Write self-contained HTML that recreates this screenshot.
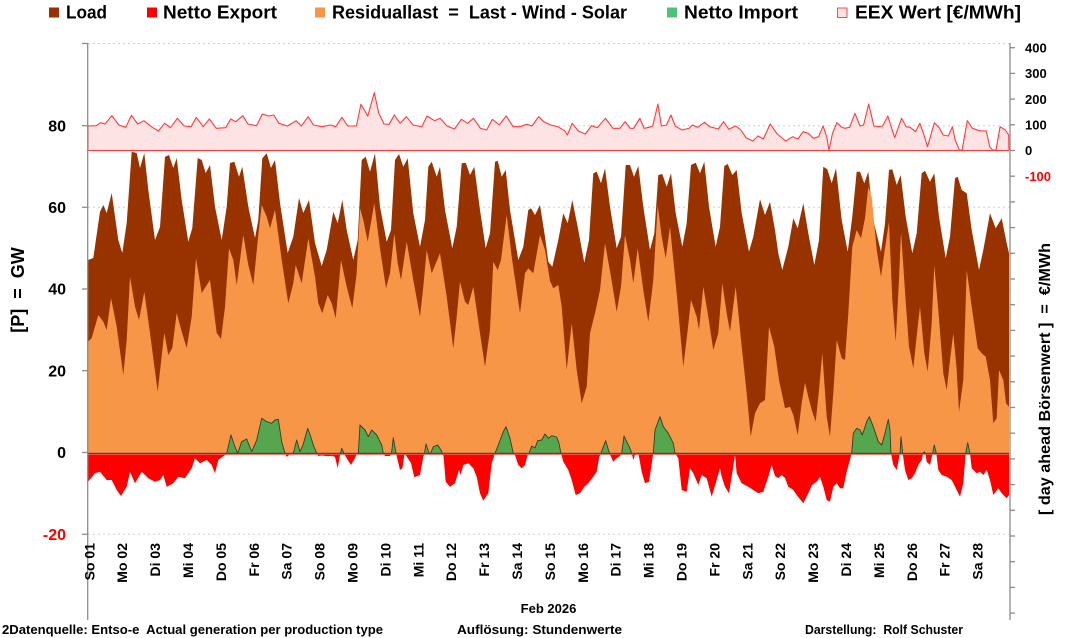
<!DOCTYPE html>
<html>
<head>
<meta charset="utf-8">
<style>
html,body{margin:0;padding:0;background:#fff;}
svg{display:block;}
text{font-family:"Liberation Sans",Arial,sans-serif;font-weight:bold;fill:#000;}
</style>
</head>
<body>
<svg width="1072" height="638" viewBox="0 0 1072 638" xmlns="http://www.w3.org/2000/svg">
<defs>
<clipPath id="neg"><rect x="80" y="453.3" width="940" height="190"/></clipPath>
<clipPath id="pos"><rect x="80" y="0" width="940" height="453.3"/></clipPath>
</defs>
<rect width="1072" height="638" fill="#fff"/>

<!-- gridlines -->
<g stroke="#cfcfcf" stroke-width="1" stroke-dasharray="2,3">
<line x1="88" y1="43.5" x2="1010" y2="43.5"/>
<line x1="88" y1="125.7" x2="1010" y2="125.7"/>
<line x1="88" y1="207.3" x2="1010" y2="207.3"/>
<line x1="88" y1="289" x2="1010" y2="289"/>
<line x1="88" y1="370.7" x2="1010" y2="370.7"/>
<line x1="88" y1="534.3" x2="1010" y2="534.3"/>
</g>

<!-- Load -->
<polygon fill="#983300" points="88,453.3 88,260 93.3,258 100,211.7 103.3,205 106.7,213 111.7,193 118.3,240 122.3,253 126.7,223 131.7,151.7 136.7,153 140,168 144.3,153 148.3,190 155,240 160,227 165,156.7 169,155 173.3,168 176.7,158 181.7,200 188.3,241.7 192.3,228 197.7,158 201.7,160 205.7,173 210,165 215,206.7 221.7,240 226.7,206.7 230,163 234.3,161.7 239,176.7 242.3,166.7 248.3,206.7 255,238 258.3,220 262.3,158.3 266.7,153.3 271,168 275,160 280,203 287.7,253 293.3,236.7 299,198 303.3,213 309,200 315,243 321.7,266 326.7,250 333.3,211.7 337.7,223.3 342.3,200 346.7,230 353.3,260 357.7,240 361.7,160 365.7,156.7 370,171.7 375,153.3 380,206.7 386.7,241.7 391,230 395,160 399,154 403.3,166.7 407.7,158.3 413.3,213.3 420,246.7 425,220 428.3,166.7 431.7,161.7 436.7,176.7 440,166.7 445,210 452.3,248.3 456.7,226.7 461.7,163.3 465.7,162.7 470,175 474.3,166.7 480,210 485.7,248.3 490,233.3 495,161.7 497.7,160.7 501.7,176.7 505.7,170 510,210 518.3,260 523.3,246.7 528.3,210 531,208.3 535,215 540,205 545,236.7 548.3,261.7 552.3,266.7 558.3,240 563.3,213.3 567.7,223.3 572.3,200 578.3,230 584.3,262.7 589,240 593.3,173.3 596.7,171.7 601,183.3 605,168.3 610,206.7 616.7,248.3 621,236.7 625.7,165 630,165 634,176.7 638.3,166 643.3,206.7 650,250 654.3,233.3 658.3,175 662.3,174 666.7,186.7 671,173.3 675.7,213.3 682.3,246.7 686.7,223.3 691,165 695.7,162.7 700,173.3 704.3,161.7 709,206.7 715.7,246.7 720,226.7 724.3,166 727.7,164 732.3,175 736.7,170 741.7,213.3 749,251.7 753.3,236.7 760,199.3 765,215 770,201.7 775,230 778.3,253.3 782.3,270 788.3,246.7 793.3,218.3 797.7,228.3 803.3,203.3 808.3,233.3 814.3,265 819,240 823.3,166.7 827.3,169.3 831.7,183.3 836,168.3 841.7,220 847.7,251.7 852.3,216.7 856.7,171.7 860,171.7 864.3,183.3 868.3,171.7 873.3,220 881,251.7 885,223.3 889,170 892.3,169.3 896.7,185 900.7,175 905.7,216.7 912.3,253.3 916.7,233.3 921.7,173.3 925,170.7 930,181.7 934.3,173.3 939,216.7 945.7,258.3 950,236.7 955,178.3 957.7,176.7 961.7,190 966.7,193.3 971.7,230 979,270 983.3,250 990,213.3 995.7,228.3 1001.7,218.3 1006.7,243.3 1009,253.3 1009,453.3"/>

<!-- Residual -->
<polygon fill="#f79646" points="88,453.3 88,341.7 91.7,338 98.3,315 103.3,321.7 106.7,330 111,298 116.7,326.7 123.3,375 126.7,340 130,276.7 135,306.7 139,320 144.3,291.7 150,333 157.7,391.7 164.3,332.7 168.3,355 172.3,348 176.7,313 181.7,331.7 186.7,348 191.7,316.7 196,258 201.7,293 210,280 216.7,333 221,339 225,306.7 229,248.3 233.3,260 236.7,285 243.3,235 248.3,265 253.3,285 258.3,235 261.7,205 266.7,216.7 270,228.3 275,210 281.7,260 288.3,303.3 293.3,283.3 295.7,265 301.7,283.3 308.3,238.3 315,276.7 318.3,303.3 322.3,313.3 327.7,295 331.7,303.3 335.7,318.3 341,260 346.7,286.7 352.3,308.3 356.7,273.3 360,208.3 363.3,220 367.7,241.7 374.3,203.3 380,248.3 386,288.3 390,273.3 394.3,233.3 397.7,263.3 401,280 406.7,241.7 413.3,280 420,316.7 423.3,286.7 426.7,250 431.7,273.3 440,253.3 446.7,296.7 453.3,348.3 456.7,316.7 460,281.7 465,301.7 468.3,305 473.3,286.7 480,333.3 485,366.7 490,330 493.3,261.7 497.7,270 501,260 506.7,215 511.7,256.7 520,313.3 525,273.3 528.3,268.3 533.3,273.3 540,235 545,250 550,281 553.3,288.3 558.3,285 561.7,306.7 566.7,370 571.7,323.3 576.7,370 581.7,403.3 586.7,386.7 590,333.3 595,313.3 600,290 605,243.3 611,276.7 616.7,311.7 621,286.7 625,235 630,260 633.3,283.3 637.7,248.3 643.3,290 648.3,321.7 653.3,280 657.7,205 661.7,236.7 665.7,258.3 670,226.7 676.7,293.3 683.3,366.7 687.7,330 691,300 696.7,316.7 699,330 703.3,286.7 708.3,316.7 713.3,350 718.3,333.3 722.3,283.3 726.7,313.3 730,331.7 735.7,286.7 741.7,346.7 746.7,393.3 750.7,436.7 755,413.3 760,403.3 765,400 769,326.7 774.3,346.7 779,380 785,408.3 790,406.7 793.3,415 797.7,435 801.7,403.3 805,382.7 808.3,396.7 811.7,410 815.7,421.7 819,390 822.3,353.3 826.7,416.7 830,436.7 833.3,393.3 836.7,340 841.7,358.3 845,360 848.3,313.3 852.3,246.7 856.7,230 861,238.3 865,218.3 868.3,186.7 871.7,196.7 876.7,250 881,276.7 885,248.3 889,221.7 892.3,300 895.7,341.7 899,280 901,231.7 905.7,301.7 909,346.7 913.3,368.3 917.7,326.7 920,306.7 924.3,353.3 927.7,371.7 931.7,323.3 934.3,265 938.3,310 943.3,373.3 946.7,390 950,360 953.3,333.3 956.7,370 959,411.7 963.3,380 966.7,270 971.7,306.7 977.7,348.3 981.7,353.3 985.7,356.7 990,380 993.3,423.3 996.7,418.3 999,370 1003.3,380 1006,403.3 1009,406.7 1009,453.3"/>

<!-- Net export (red) -->
<path d="M88,453.3 L88,481.7 95,473.3 100,471.7 106.7,480 111.7,480 116.7,490 121,496 126.7,486.7 130,471.7 135,483.3 141.7,471.7 148.3,478.3 155,481.7 160,480 163.3,475 166.7,486.7 173.3,483.3 178.3,476.7 185,478.3 191.7,468.3 195,458.3 200,463.3 206.7,460 211.7,465 215,473.3 218.3,460 225,455 226.7,453.3 231,435 234.3,445 237.7,453.3 241.7,441.7 246.7,439 251.7,451.7 256.7,440 261.7,418.3 266.7,421.7 271.7,423.3 275,420 278.3,419.3 281.7,441.7 285,453.3 286.5,456.7 288,456 290,453.3 293.3,453.3 296.7,440 300,451.7 303,445 307.7,428.3 310.5,436 313.3,445 316.7,453.3 318.3,456 322,455.5 328,456.3 332,455.8 335,457 337.7,468.3 340,455 341.7,448.3 344,453.3 346.5,458 351,465 355,458 357,453.3 358.3,453.3 360,425 365,430 368.3,436.7 371.7,430 376.7,435 381.7,445 383.3,453.3 385,456 390,456 391.5,453.3 393.3,437.7 396,453.3 400,470 402.5,468 404.3,455 406,455.5 411,463 414.3,477.3 420,475 423.3,456.7 424.5,453.3 426,444 428.5,451.5 430,455 431.5,451 433.3,446.7 437.7,445 441.5,451 442.3,453.3 443.5,456 445.7,481.7 450,486.7 455,483.3 459,470 460.7,475 463.3,465 468.3,463.3 473.3,468.3 476.7,476.7 480,493.3 483.3,500.7 488.3,493.3 491.7,463.3 495,453.3 498.3,445 503.3,431.7 506,426.7 510,438.3 513.3,453.3 515,455 518.3,465 521.7,468.3 525,465 527.7,455 529,453.3 531.7,446 535,448 537.7,440.7 541.7,440 545,434 548.3,438.3 551.7,435.7 556.7,437 559,443.3 561,453.3 563.3,461.7 568.3,470 571.7,480 575.7,495 580,493.3 584.3,486.7 588.3,483.3 593.3,476.7 596.7,471.7 599.3,456.7 601,453.3 602.7,448.3 605.7,440.7 609,451.7 611,456.7 613.3,461.7 616.7,458.3 620,456 621.7,453.3 624,436 626.7,441.7 630,448.3 631.7,453.3 633.3,460 635,455 638.3,453 641.7,471.7 645,483.3 649,481.7 652.3,460 653.3,453.3 655,430 660,416.7 663.3,426.7 668.3,433.3 673.3,443.3 675,453.3 678.3,458.3 681.7,490 686.7,491.7 690,468.3 693.3,473.3 698.3,485 701.7,475 706.7,478.3 711.7,496.7 716.7,480 720,468.3 721.7,476.7 725,486.7 729,493.3 731.7,476.7 735,455 736.7,473.3 741.7,483.3 748.3,486.7 753.3,490 758.3,493.3 763.3,491.7 768.3,476.7 771.7,465 775,476 778.3,478 781.7,475 785,478 788.3,486.7 793.3,490 796.7,495 803.3,503.3 808.3,493.3 812,485 816.7,481.7 820,476.7 823.3,486.7 826.7,500 830,501.7 833.3,486.7 836.7,483.3 840,488.3 843.3,488.3 846.7,471.7 850,460 851.7,453.3 853.3,433.3 856.7,428.3 860,430 862.3,435 866.7,421.7 869.3,416.7 873.3,426.7 878.3,441.7 881.7,445 885,433.3 888.3,419.3 890,430 891,453.3 893.3,465 896.7,470 899,458.3 900,453.3 901,436.7 902.7,453.3 905,470 908.3,480 911.7,478.3 915,473.3 918.3,465 921.7,460 923.3,453.3 924.3,451.7 925.3,453.3 926.7,461.7 930,465 932.3,455 934.3,445 936.3,453.3 938.3,470 941.7,475 946.7,476.7 951.7,480 956.7,490 960,496.7 963.3,483.3 965.7,453.3 967.7,442.7 970,453.3 971.7,468.3 976.7,473.3 980,471.7 983.3,475 986.7,470 990,480 993.3,495 998.3,488.3 1001.7,493.3 1006.7,498.3 1009,495 1009,453.3 Z" fill="#ff0000" clip-path="url(#neg)"/>

<!-- Net import (green) -->
<path d="M88,453.3 L88,481.7 95,473.3 100,471.7 106.7,480 111.7,480 116.7,490 121,496 126.7,486.7 130,471.7 135,483.3 141.7,471.7 148.3,478.3 155,481.7 160,480 163.3,475 166.7,486.7 173.3,483.3 178.3,476.7 185,478.3 191.7,468.3 195,458.3 200,463.3 206.7,460 211.7,465 215,473.3 218.3,460 225,455 226.7,453.3 231,435 234.3,445 237.7,453.3 241.7,441.7 246.7,439 251.7,451.7 256.7,440 261.7,418.3 266.7,421.7 271.7,423.3 275,420 278.3,419.3 281.7,441.7 285,453.3 286.5,456.7 288,456 290,453.3 293.3,453.3 296.7,440 300,451.7 303,445 307.7,428.3 310.5,436 313.3,445 316.7,453.3 318.3,456 322,455.5 328,456.3 332,455.8 335,457 337.7,468.3 340,455 341.7,448.3 344,453.3 346.5,458 351,465 355,458 357,453.3 358.3,453.3 360,425 365,430 368.3,436.7 371.7,430 376.7,435 381.7,445 383.3,453.3 385,456 390,456 391.5,453.3 393.3,437.7 396,453.3 400,470 402.5,468 404.3,455 406,455.5 411,463 414.3,477.3 420,475 423.3,456.7 424.5,453.3 426,444 428.5,451.5 430,455 431.5,451 433.3,446.7 437.7,445 441.5,451 442.3,453.3 443.5,456 445.7,481.7 450,486.7 455,483.3 459,470 460.7,475 463.3,465 468.3,463.3 473.3,468.3 476.7,476.7 480,493.3 483.3,500.7 488.3,493.3 491.7,463.3 495,453.3 498.3,445 503.3,431.7 506,426.7 510,438.3 513.3,453.3 515,455 518.3,465 521.7,468.3 525,465 527.7,455 529,453.3 531.7,446 535,448 537.7,440.7 541.7,440 545,434 548.3,438.3 551.7,435.7 556.7,437 559,443.3 561,453.3 563.3,461.7 568.3,470 571.7,480 575.7,495 580,493.3 584.3,486.7 588.3,483.3 593.3,476.7 596.7,471.7 599.3,456.7 601,453.3 602.7,448.3 605.7,440.7 609,451.7 611,456.7 613.3,461.7 616.7,458.3 620,456 621.7,453.3 624,436 626.7,441.7 630,448.3 631.7,453.3 633.3,460 635,455 638.3,453 641.7,471.7 645,483.3 649,481.7 652.3,460 653.3,453.3 655,430 660,416.7 663.3,426.7 668.3,433.3 673.3,443.3 675,453.3 678.3,458.3 681.7,490 686.7,491.7 690,468.3 693.3,473.3 698.3,485 701.7,475 706.7,478.3 711.7,496.7 716.7,480 720,468.3 721.7,476.7 725,486.7 729,493.3 731.7,476.7 735,455 736.7,473.3 741.7,483.3 748.3,486.7 753.3,490 758.3,493.3 763.3,491.7 768.3,476.7 771.7,465 775,476 778.3,478 781.7,475 785,478 788.3,486.7 793.3,490 796.7,495 803.3,503.3 808.3,493.3 812,485 816.7,481.7 820,476.7 823.3,486.7 826.7,500 830,501.7 833.3,486.7 836.7,483.3 840,488.3 843.3,488.3 846.7,471.7 850,460 851.7,453.3 853.3,433.3 856.7,428.3 860,430 862.3,435 866.7,421.7 869.3,416.7 873.3,426.7 878.3,441.7 881.7,445 885,433.3 888.3,419.3 890,430 891,453.3 893.3,465 896.7,470 899,458.3 900,453.3 901,436.7 902.7,453.3 905,470 908.3,480 911.7,478.3 915,473.3 918.3,465 921.7,460 923.3,453.3 924.3,451.7 925.3,453.3 926.7,461.7 930,465 932.3,455 934.3,445 936.3,453.3 938.3,470 941.7,475 946.7,476.7 951.7,480 956.7,490 960,496.7 963.3,483.3 965.7,453.3 967.7,442.7 970,453.3 971.7,468.3 976.7,473.3 980,471.7 983.3,475 986.7,470 990,480 993.3,495 998.3,488.3 1001.7,493.3 1006.7,498.3 1009,495 1009,453.3 Z" fill="#56a64e" stroke="#2f3f2c" stroke-width="0.9" stroke-linejoin="round" clip-path="url(#pos)"/>

<!-- zero line -->
<line x1="88" y1="453.5" x2="1009" y2="453.5" stroke="#4a4a4a" stroke-width="1.3"/>
<line x1="88" y1="454.6" x2="1009" y2="454.6" stroke="#ff5a5a" stroke-width="0.8"/>

<!-- EEX price -->
<polygon fill="#fde3e3" stroke="none" points="88,150.3 88,126 96.4,125.7 100.6,122.7 105,124 111.9,115.7 118.8,125 125.7,127.3 131.5,115.3 137.7,124 143.9,120.7 151.5,126.7 158.4,131 164.6,123.3 170.5,127.7 177.3,118.3 184.2,126 191.1,126.7 196.3,117.3 203.2,126.7 209.4,119 216.3,128.3 225.6,127.7 230.7,119 235.9,121.7 242.8,115.7 247.9,124 256.5,125.7 262.4,114 268.6,116 273.8,115 278.9,123.3 287.5,126 296.1,120.7 301.3,126 308.2,116.7 313.4,125 322,126.7 330.6,125 335.7,126.7 341.9,117.3 347.8,126 356.4,126 360.9,104.3 367.8,116 374.3,92.7 378.8,113.3 384,124 389.1,124.3 394.3,115 400.1,123.3 406.3,116.7 413.2,125 421.8,126.7 427,116 434.6,120.7 440.1,118.3 447,126 454.5,129 461.4,119.3 467.6,123.3 473.5,118.3 480.4,128.3 486.6,130 492.4,119.3 499.3,125 506.2,116 513.1,126.7 520,126.7 526.9,124.3 532,126 538.6,116.7 543.8,121.7 550.7,125 557.7,126.7 564.6,130.7 567.3,135 572.2,123.3 578.4,131 585.3,134 591.5,125.7 597.4,127.7 605.4,118.3 613,128.3 619.9,128.3 625.1,121.7 630.2,128.3 633.7,128.3 639.9,118.3 644.1,128.3 649.3,127.3 652.7,126 657.9,104 661.4,126 666.5,125 671,115 675.2,126 682.1,130 689,128.3 692.5,125 697.6,127.3 704.6,122.3 709.7,126.7 718.4,129 723.6,121.7 728.8,129.3 735.7,126 740.9,130 746,137.7 752.9,141 758.1,136 763.3,139 770.2,124 777.2,134 785.8,141 792.7,136.7 797.9,139 803.1,131.7 808.3,133.3 813.4,138.3 818.6,136.7 823.1,126 826.6,136.7 829,150 832.5,133.3 836.9,122.7 841.1,126.7 844.6,128.3 849.7,127.3 854.9,113.3 860.1,126 863.6,125 868.7,104 873.9,126 879.1,126.7 882.6,126 887.8,116 894.7,137.7 901.6,118.3 906.1,126.7 910.2,127.3 915.4,131.7 919.9,123.3 924,135 927.5,146.7 934.4,122.7 939.6,128.3 943.1,135 948.3,136 952.4,126.7 955.2,140 959.3,150 962.1,150 967.3,120.7 972.5,128.3 979.4,130.7 986.3,131 989.7,146.7 992.5,150 996,150 1000.1,126.7 1005.3,130 1008.7,135 1009,150.3"/>
<polyline fill="none" stroke="#ff3b3b" stroke-width="1.1" stroke-linejoin="round" points="88,150.3 88,126 96.4,125.7 100.6,122.7 105,124 111.9,115.7 118.8,125 125.7,127.3 131.5,115.3 137.7,124 143.9,120.7 151.5,126.7 158.4,131 164.6,123.3 170.5,127.7 177.3,118.3 184.2,126 191.1,126.7 196.3,117.3 203.2,126.7 209.4,119 216.3,128.3 225.6,127.7 230.7,119 235.9,121.7 242.8,115.7 247.9,124 256.5,125.7 262.4,114 268.6,116 273.8,115 278.9,123.3 287.5,126 296.1,120.7 301.3,126 308.2,116.7 313.4,125 322,126.7 330.6,125 335.7,126.7 341.9,117.3 347.8,126 356.4,126 360.9,104.3 367.8,116 374.3,92.7 378.8,113.3 384,124 389.1,124.3 394.3,115 400.1,123.3 406.3,116.7 413.2,125 421.8,126.7 427,116 434.6,120.7 440.1,118.3 447,126 454.5,129 461.4,119.3 467.6,123.3 473.5,118.3 480.4,128.3 486.6,130 492.4,119.3 499.3,125 506.2,116 513.1,126.7 520,126.7 526.9,124.3 532,126 538.6,116.7 543.8,121.7 550.7,125 557.7,126.7 564.6,130.7 567.3,135 572.2,123.3 578.4,131 585.3,134 591.5,125.7 597.4,127.7 605.4,118.3 613,128.3 619.9,128.3 625.1,121.7 630.2,128.3 633.7,128.3 639.9,118.3 644.1,128.3 649.3,127.3 652.7,126 657.9,104 661.4,126 666.5,125 671,115 675.2,126 682.1,130 689,128.3 692.5,125 697.6,127.3 704.6,122.3 709.7,126.7 718.4,129 723.6,121.7 728.8,129.3 735.7,126 740.9,130 746,137.7 752.9,141 758.1,136 763.3,139 770.2,124 777.2,134 785.8,141 792.7,136.7 797.9,139 803.1,131.7 808.3,133.3 813.4,138.3 818.6,136.7 823.1,126 826.6,136.7 829,150 832.5,133.3 836.9,122.7 841.1,126.7 844.6,128.3 849.7,127.3 854.9,113.3 860.1,126 863.6,125 868.7,104 873.9,126 879.1,126.7 882.6,126 887.8,116 894.7,137.7 901.6,118.3 906.1,126.7 910.2,127.3 915.4,131.7 919.9,123.3 924,135 927.5,146.7 934.4,122.7 939.6,128.3 943.1,135 948.3,136 952.4,126.7 955.2,140 959.3,150 962.1,150 967.3,120.7 972.5,128.3 979.4,130.7 986.3,131 989.7,146.7 992.5,150 996,150 1000.1,126.7 1005.3,130 1008.7,135 1009,150.3"/>
<line x1="88" y1="150.5" x2="1009" y2="150.5" stroke="#ff3b3b" stroke-width="1.1"/>

<!-- axes -->
<g stroke="#8c8c8c" stroke-width="1.3">
<line x1="87.7" y1="43" x2="87.7" y2="620"/>
<line x1="1010" y1="43" x2="1010" y2="620"/>
<line x1="82" y1="43.5" x2="88" y2="43.5"/>
<line x1="82" y1="125.7" x2="88" y2="125.7"/>
<line x1="82" y1="207.3" x2="88" y2="207.3"/>
<line x1="82" y1="289" x2="88" y2="289"/>
<line x1="82" y1="370.7" x2="88" y2="370.7"/>
<line x1="82" y1="452.5" x2="88" y2="452.5"/>
<line x1="82" y1="534.3" x2="88" y2="534.3"/>
<line x1="1010" y1="47.7" x2="1015" y2="47.7"/>
<line x1="1010" y1="73.4" x2="1015" y2="73.4"/>
<line x1="1010" y1="99.1" x2="1015" y2="99.1"/>
<line x1="1010" y1="124.8" x2="1015" y2="124.8"/>
<line x1="1010" y1="150.5" x2="1015" y2="150.5"/>
<line x1="1010" y1="176.2" x2="1015" y2="176.2"/>
<line x1="1010" y1="201.9" x2="1015" y2="201.9"/>
<line x1="1010" y1="227.6" x2="1015" y2="227.6"/>
<line x1="1010" y1="253.3" x2="1015" y2="253.3"/>
<line x1="1010" y1="279" x2="1015" y2="279"/>
<line x1="1010" y1="304.7" x2="1015" y2="304.7"/>
<line x1="1010" y1="330.4" x2="1015" y2="330.4"/>
<line x1="1010" y1="356.1" x2="1015" y2="356.1"/>
<line x1="1010" y1="381.8" x2="1015" y2="381.8"/>
<line x1="1010" y1="407.5" x2="1015" y2="407.5"/>
<line x1="1010" y1="433.2" x2="1015" y2="433.2"/>
<line x1="1010" y1="458.9" x2="1015" y2="458.9"/>
<line x1="1010" y1="484.6" x2="1015" y2="484.6"/>
<line x1="1010" y1="510.3" x2="1015" y2="510.3"/>
<line x1="1010" y1="536" x2="1015" y2="536"/>
<line x1="1010" y1="561.7" x2="1015" y2="561.7"/>
<line x1="1010" y1="587.4" x2="1015" y2="587.4"/>
<line x1="1010" y1="613.1" x2="1015" y2="613.1"/>
</g>

<!-- left axis labels -->
<g font-size="16" text-anchor="end">
<text x="66" y="131.5">80</text>
<text x="66" y="213">60</text>
<text x="66" y="294.7">40</text>
<text x="66" y="376.4">20</text>
<text x="66" y="458.2">0</text>
<text x="66" y="540" style="fill:#ff0000">-20</text>
</g>

<!-- right axis labels -->
<g font-size="13">
<text x="1025" y="52.4">400</text>
<text x="1025" y="78.1">300</text>
<text x="1025" y="103.8">200</text>
<text x="1025" y="129.5">100</text>
<text x="1025" y="155.2">0</text>
<text x="1025" y="180.9" style="fill:#ff0000">-100</text>
</g>

<!-- axis titles -->
<text font-size="18" text-anchor="middle" transform="translate(24,290) rotate(-90)" style="white-space:pre">[P]  =  GW</text>
<text font-size="15.5" text-anchor="middle" transform="translate(1050,379) rotate(-90)" style="white-space:pre" textLength="272" lengthAdjust="spacingAndGlyphs">[ day ahead Börsenwert ]  =  €/MWh</text>

<!-- x labels -->
<g font-size="14" text-anchor="end">
<text transform="translate(94.3,543) rotate(-90)">So 01</text>
<text transform="translate(127.2,543) rotate(-90)">Mo 02</text>
<text transform="translate(160.1,543) rotate(-90)">Di 03</text>
<text transform="translate(193,543) rotate(-90)">Mi 04</text>
<text transform="translate(225.9,543) rotate(-90)">Do 05</text>
<text transform="translate(258.8,543) rotate(-90)">Fr 06</text>
<text transform="translate(291.7,543) rotate(-90)">Sa 07</text>
<text transform="translate(324.6,543) rotate(-90)">So 08</text>
<text transform="translate(357.5,543) rotate(-90)">Mo 09</text>
<text transform="translate(390.4,543) rotate(-90)">Di 10</text>
<text transform="translate(423.3,543) rotate(-90)">Mi 11</text>
<text transform="translate(456.2,543) rotate(-90)">Do 12</text>
<text transform="translate(489.1,543) rotate(-90)">Fr 13</text>
<text transform="translate(522,543) rotate(-90)">Sa 14</text>
<text transform="translate(554.9,543) rotate(-90)">So 15</text>
<text transform="translate(587.8,543) rotate(-90)">Mo 16</text>
<text transform="translate(620.7,543) rotate(-90)">Di 17</text>
<text transform="translate(653.6,543) rotate(-90)">Mi 18</text>
<text transform="translate(686.5,543) rotate(-90)">Do 19</text>
<text transform="translate(719.4,543) rotate(-90)">Fr 20</text>
<text transform="translate(752.3,543) rotate(-90)">Sa 21</text>
<text transform="translate(785.2,543) rotate(-90)">So 22</text>
<text transform="translate(818.1,543) rotate(-90)">Mo 23</text>
<text transform="translate(851,543) rotate(-90)">Di 24</text>
<text transform="translate(883.9,543) rotate(-90)">Mi 25</text>
<text transform="translate(916.8,543) rotate(-90)">Do 26</text>
<text transform="translate(949.7,543) rotate(-90)">Fr 27</text>
<text transform="translate(982.6,543) rotate(-90)">Sa 28</text>
</g>

<text x="548.5" y="613" font-size="13" text-anchor="middle">Feb 2026</text>

<!-- footer -->
<g font-size="12.5">
<text x="2" y="634" textLength="381" lengthAdjust="spacingAndGlyphs" style="white-space:pre">2Datenquelle: Entso-e  Actual generation per production type</text>
<text x="457" y="634" textLength="165" lengthAdjust="spacingAndGlyphs">Auflösung: Stundenwerte</text>
<text x="805" y="634" textLength="158" lengthAdjust="spacingAndGlyphs" style="white-space:pre">Darstellung:  Rolf Schuster</text>
</g>

<!-- legend -->
<rect x="49" y="7.5" width="10" height="10" fill="#983300"/>
<text x="66" y="18.5" font-size="18" textLength="41" lengthAdjust="spacingAndGlyphs">Load</text>
<rect x="147" y="7.5" width="10" height="10" fill="#ff0000"/>
<text x="163" y="18.5" font-size="18" textLength="114" lengthAdjust="spacingAndGlyphs">Netto Export</text>
<rect x="315" y="7.5" width="10" height="10" fill="#f79646"/>
<text x="332" y="18.5" font-size="18" textLength="295" lengthAdjust="spacingAndGlyphs" style="white-space:pre">Residuallast  =  Last - Wind - Solar</text>
<rect x="667" y="7.5" width="10" height="10" fill="#4fc27a"/>
<text x="684" y="18.5" font-size="18" textLength="114" lengthAdjust="spacingAndGlyphs">Netto Import</text>
<rect x="837.5" y="8" width="9.5" height="9.5" fill="#fde3e3" stroke="#ff4a4a" stroke-width="1"/>
<text x="855" y="18.5" font-size="18" textLength="166" lengthAdjust="spacingAndGlyphs">EEX Wert [€/MWh]</text>
</svg>
</body>
</html>
